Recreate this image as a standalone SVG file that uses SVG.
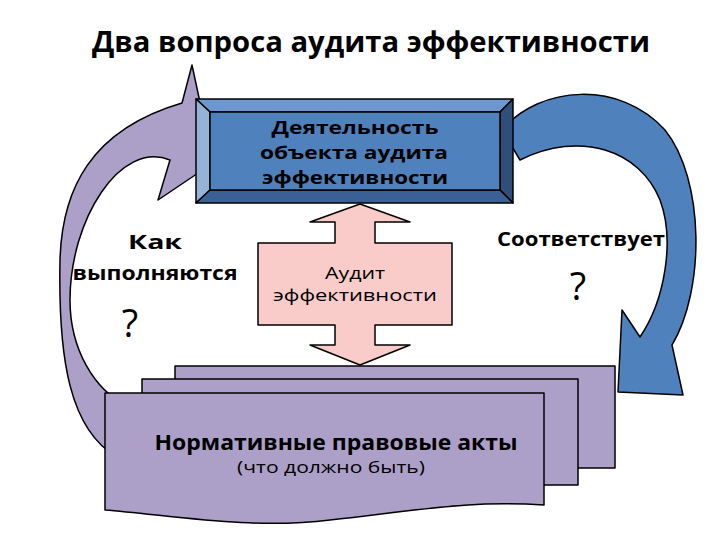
<svg xmlns="http://www.w3.org/2000/svg" width="720" height="540" viewBox="0 0 720 540">
<style>
text{font-family:"Open Sans","Liberation Sans",sans-serif;fill:#000;text-anchor:middle}
.b{font-weight:bold}
.ln{stroke:#000;stroke-width:1.5;stroke-linejoin:round}
.doc{fill:#ADA0C8}
</style>
<rect width="720" height="540" fill="#fff"/>
<text class="b" x="371" y="52" font-size="28" textLength="558" lengthAdjust="spacingAndGlyphs">Два вопроса аудита эффективности</text>
<g id="connectors">
<path id="leftArrow" class="ln" fill="#ADA0C8" d="M117,457 C70,430 58,360 60,260 C62,190 90,130 182,103 L192,65 L213,163 L158,200 L170,160 C120,140 70,220 70,300 C70,350 95,390 126,405 Z"/>
<path id="rightArrow" class="ln" fill="#4F81BD" d="M502,130 C540,85 620,80 665,130 C705,180 705,290 672,345 L683,395 L618,392 L622,310 L640,337 C665,300 675,240 660,200 C640,150 580,130 520,160 Z"/>
</g>
<g id="node-activity">
<polygon points="196,99 513,99 500,112 210,112" fill="#6D97CF" class="ln"/>
<polygon points="196,99 210,112 210,190 196,203" fill="#95B3D7" class="ln"/>
<polygon points="513,99 513,203 500,190 500,112" fill="#2F4F7A" class="ln"/>
<polygon points="196,203 210,190 500,190 513,203" fill="#3A6096" class="ln"/>
<rect x="210" y="112" width="290" height="78" fill="#4F81BD" class="ln"/>
<text class="b" x="355" y="134" font-size="18.5" textLength="167" lengthAdjust="spacingAndGlyphs">Деятельность</text>
<text class="b" x="354" y="159" font-size="18.5" textLength="188" lengthAdjust="spacingAndGlyphs">объекта аудита</text>
<text class="b" x="355" y="184" font-size="18.5" textLength="186" lengthAdjust="spacingAndGlyphs">эффективности</text>
</g>
<g id="node-audit">
<path class="ln" fill="#F9CCCA" d="M360,204 L410,222 L375,222 L375,243 L452,243 L452,325 L375,325 L375,345 L410,345 L360,365 L310,345 L335,345 L335,325 L258,325 L258,243 L335,243 L335,222 L310,222 Z"/>
<text x="355" y="279" font-size="16" textLength="60" lengthAdjust="spacingAndGlyphs">Аудит</text>
<text x="355" y="301" font-size="16" textLength="164" lengthAdjust="spacingAndGlyphs">эффективности</text>
</g>
<g id="label-how">
<text class="b" x="155" y="249" font-size="20" textLength="54" lengthAdjust="spacingAndGlyphs">Как</text>
<text class="b" x="155" y="280" font-size="20" textLength="165" lengthAdjust="spacingAndGlyphs">выполняются</text>
<text x="130" y="337" font-size="38">?</text>
</g>
<g id="label-match">
<text class="b" x="581" y="246" font-size="20" textLength="168" lengthAdjust="spacingAndGlyphs">Соответствует</text>
<text x="578" y="300" font-size="38">?</text>
</g>
<g id="node-norms">
<rect class="ln doc" x="175" y="366" width="440" height="102"/>
<rect class="ln doc" x="142" y="379" width="436" height="106"/>
<path class="ln doc" d="M105,393 L544,393 L544,505 C470,500 420,510 330,520 C250,530 170,515 105,510 Z"/>
<text class="b" x="336" y="450" font-size="21" textLength="363" lengthAdjust="spacingAndGlyphs">Нормативные правовые акты</text>
<text x="331" y="473" font-size="17" textLength="188" lengthAdjust="spacingAndGlyphs">(что должно быть)</text>
</g>
</svg>
